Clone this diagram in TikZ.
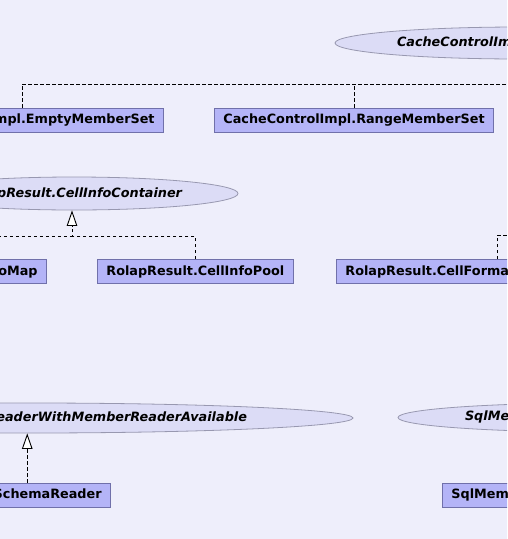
\documentclass[tikz,border=0pt]{standalone}
\usepackage{fontspec}
\setmainfont{DejaVu Sans}
\usetikzlibrary{arrows.meta,shapes.geometric}
\definecolor{bgc}{HTML}{EEEEFB}
\definecolor{boxfill}{HTML}{B4B4F7}
\definecolor{boxdraw}{HTML}{7070AA}
\definecolor{ellfill}{HTML}{DCDCF6}
\definecolor{elldraw}{HTML}{9898B0}
\newcommand\boxfont{\fontsize{12.8}{15}\selectfont\bfseries}
\newcommand\ellfont{\fontsize{12.8}{15}\selectfont\bfseries\itshape}
\newlength\twA \newlength\twB \newlength\twC \newlength\twD
\AtBeginDocument{%
\settowidth\twA{\ellfont CacheControlImpl.MemberSetPlus}%
\settowidth\twB{\ellfont RolapResult.CellInfoContainer}%
\settowidth\twC{\ellfont RolapNativeSet.SchemaReaderWithMemberReaderAvailable}%
\settowidth\twD{\ellfont SqlMemberSource.ValuePoolFactory}%
\xdef\hwA{\the\dimexpr\twA/2\relax}%
\xdef\hwB{\the\dimexpr\twB/2\relax}%
\xdef\hwC{\the\dimexpr\twC/2\relax}%
\xdef\hwD{\the\dimexpr\twD/2\relax}%
}
\tikzset{
  cls/.style={draw=boxdraw, fill=boxfill, font=\boxfont, text=black,
    minimum height=24pt, inner xsep=9pt, inner ysep=0pt, line width=0.8pt},
  ell/.style={ellipse, draw=elldraw, fill=ellfill, font=\ellfont, text=black,
    inner sep=0pt, line width=0.8pt},
  dep/.style={draw=black, line width=0.9pt, dash pattern=on 3.5pt off 2.5pt},
  impl/.style={dep, -{Triangle[length=15.5pt,width=10.5pt,fill=white]}}
}
\begin{document}
\begin{tikzpicture}[x=1pt,y=-1pt]
\pgfmathsetmacro\cxA{397+\hwA}
\pgfmathsetmacro\axA{62+\hwA}
\pgfmathsetmacro\cxB{182-\hwB}
\pgfmathsetmacro\axB{56+\hwB}
\pgfmathsetmacro\cxC{247-\hwC}
\pgfmathsetmacro\axC{106+\hwC}
\pgfmathsetmacro\cxD{465+\hwD}
\pgfmathsetmacro\axD{67+\hwD}
\useasboundingbox (0,0) rectangle (507,539);
\fill[bgc] (0,0) rectangle (507,539);
\clip (0,0) rectangle (507,539);

% interfaces
\node[ell, minimum width=2*\axA pt, minimum height=32pt]
  (e1) at (\cxA, 43) {CacheControlImpl.MemberSetPlus};
\node[ell, minimum width=2*\axB pt, minimum height=33pt]
  (e2) at (\cxB, 193.5) {RolapResult.CellInfoContainer};
\node[ell, minimum width=2*\axC pt, minimum height=30pt]
  (e3) at (\cxC, 418) {RolapNativeSet.SchemaReaderWithMemberReaderAvailable};
\node[ell, minimum width=2*\axD pt, minimum height=29pt]
  (e4) at (\cxD, 417.5) {SqlMemberSource.ValuePoolFactory};

% classes
\node[cls, anchor=east] (empty) at (164,120) {CacheControlImpl.EmptyMemberSet};
\node[cls, anchor=west] (range) at (214,120) {CacheControlImpl.RangeMemberSet};
\node[cls, anchor=east] (map) at (47,271.5) {RolapResult.CellInfoMap};
\node[cls, anchor=west] (pool) at (97,271.5) {RolapResult.CellInfoPool};
\node[cls, anchor=west] (fmt) at (336,271.5) {RolapResult.CellFormatterValueFormatter};
\node[cls, anchor=east] (schema) at (111,495) {RolapSchemaReader};
\node[cls, anchor=west] (sqlm) at (442,495) {SqlMemberSource.NullValuePoolFactory};

% connectors
\coordinate (j1) at (22,84);
\draw[impl] (empty.north -| j1) -- (j1) -| (e1.south);
\draw[dep] (range.north) -- (range.north |- j1);
\coordinate (j2) at (72,236);
\draw[impl] (map.north) |- (j2) -- (j2 |- e2.south);
\draw[dep] (pool.north) |- (j2);
\coordinate (j3) at (640,235);
\draw[dep] (fmt.north) |- (j3);
\draw[impl] (schema.north) -- (schema.north |- e3.south);
\draw[impl] (sqlm.north) -- (sqlm.north |- e4.south);
\end{tikzpicture}
\end{document}
